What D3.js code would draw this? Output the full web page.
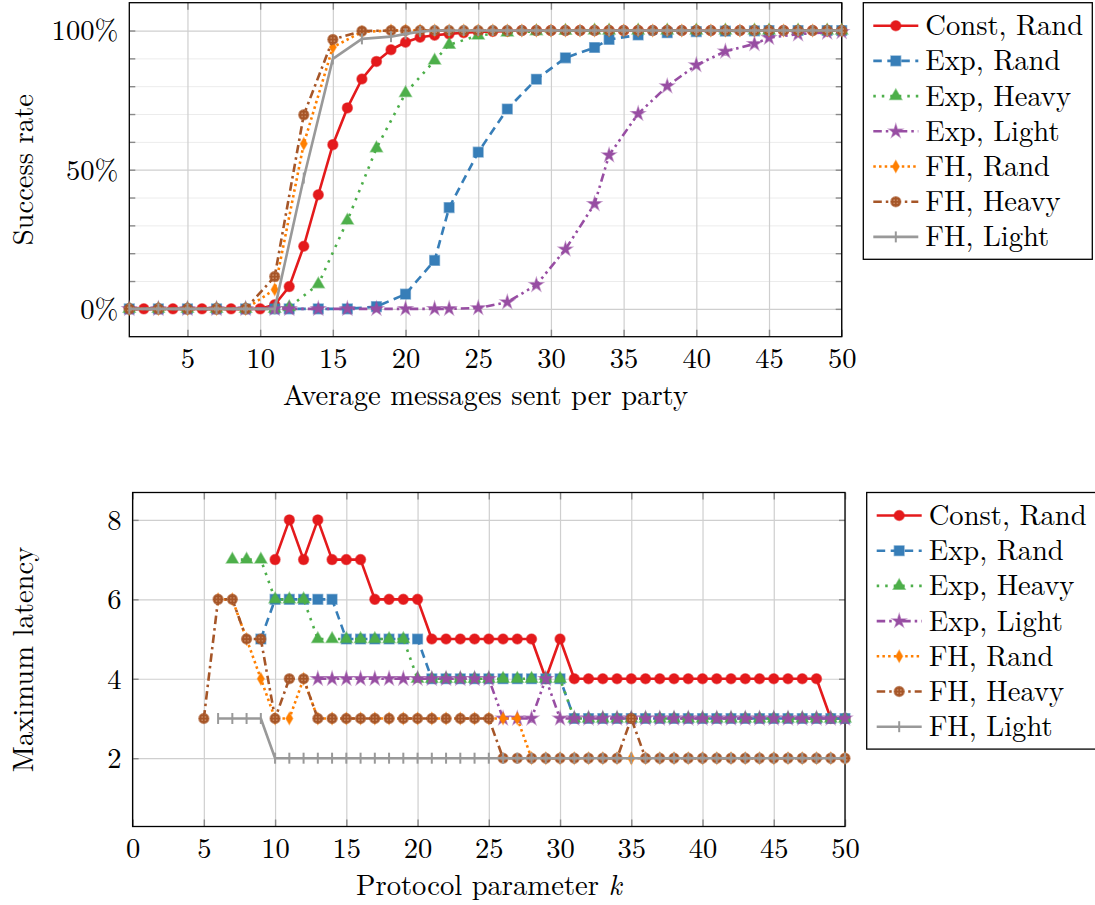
<!DOCTYPE html>
<meta charset="utf-8">
<title>Success rate and maximum latency</title>
<script src="https://d3js.org/d3.v7.min.js"></script>
<style>
  body { margin: 0; background: #fff; overflow: hidden; }
</style>
<div id="my_dataviz"></div>
<script>

// ---------- data ----------
var seriesNames = ["Const, Rand", "Exp, Rand", "Exp, Heavy", "Exp, Light", "FH, Rand", "FH, Heavy", "FH, Light"];

// top chart: success rate (%) vs. average messages sent per party
var constMsgX = [1,2,3,4,5,6,7,8,9,10,11,12,13,14,15,16,17,18,19,20,21,22,23,24,25,
                 26,27,28,29,30,31,32,33,34,35,36,37,38,39,40,41,42,43,44,45,46,47,48,49,50];
var constRandRate = [0,0,0,0,0,0,0,0,0,0,1.5,8,22.5,41,59,72.2,82.6,88.9,93.1,95.8,
                     97.6,98.3,98.8,99.2,99.5,99.7,99.8,100,100,100,100,100,100,100,100,100,100,100,100,100,
                     100,100,100,100,100,100,100,100,100,100];

var expMsgX = [1,3,5,7,9,11,12,14,16,18,20,22,23,25,27,29,31,33,34,36,38,40,42,44,45,47,49,50];
var expRandRate  = [0,0,0,0,0,0,0,0,0,0.8,5.3,17.4,36.4,56.3,71.8,82.5,90.2,93.9,96.8,98.4,99.2,99.6,99.8,99.9,100,100,100,100];
var expHeavyRate = [0,0,0,0,0,0,0.6,8.8,31.7,57.7,77.5,89.2,94.9,98.2,99.3,99.7,99.9,100,100,100,100,100,100,100,100,100,100,100];
var expLightRate = [0,0,0,0,0,0,0,0,0,0,0,0,0,0.3,2.4,8.6,21.4,37.7,55.2,70.1,80,87.6,92.5,95.2,97.4,98.7,99.3,99.5];

var fhMsgX = [1,3,5,7,9,11,13,15,17,19,20,21,22,23,24,25,26,27,28,29,30,31,32,33,34,35,
              36,37,38,39,40,41,42,43,44,45,46,47,48,49,50];
var fhRandRate  = [0,0,0,0,0,7,59.3,94,99.5,100,100,100,100,100,100,100,100,100,100,100,100,100,100,100,100,100,
                   100,100,100,100,100,100,100,100,100,100,100,100,100,100,100];
var fhHeavyRate = [0,0,0,0,0,11.6,69.7,96.8,99.8,100,100,100,100,100,100,100,100,100,100,100,100,100,100,100,100,100,
                   100,100,100,100,100,100,100,100,100,100,100,100,100,100,100];
var fhLightRate = [0,0,0,0,0,0,47,89.8,97,97.8,98.8,99.6,100,100,100,100,100,100,100,100,100,100,100,100,100,100,
                   100,100,100,100,100,100,100,100,100,100,100,100,100,100,100];

// bottom chart: maximum latency vs. protocol parameter k
var kConstRand = [10,11,12,13,14,15,16,17,18,19,20,21,22,23,24,25,26,27,28,29,30,
                  31,32,33,34,35,36,37,38,39,40,41,42,43,44,45,46,47,48,49,50];
var latConstRand = [7,8,7,8,7,7,7,6,6,6,6,5,5,5,5,5,5,5,5,4,5,
                    4,4,4,4,4,4,4,4,4,4,4,4,4,4,4,4,4,4,3,3];
var kExpRand = [9,10,11,12,13,14,15,16,17,18,19,20,21,22,23,24,25,26,27,28,29,30,
                31,32,33,34,35,36,37,38,39,40,41,42,43,44,45,46,47,48,49,50];
var latExpRand = [5,6,6,6,6,6,5,5,5,5,5,5,4,4,4,4,4,4,4,4,4,4,
                  3,3,3,3,3,3,3,3,3,3,3,3,3,3,3,3,3,3,3,3];
var kExpHeavy = [7,8,9,10,11,12,13,14,15,16,17,18,19,20,21,22,23,24,25,26,27,28,29,30,
                 31,32,33,34,35,36,37,38,39,40,41,42,43,44,45,46,47,48,49,50];
var latExpHeavy = [7,7,7,6,6,6,5,5,5,5,5,5,5,4,4,4,4,4,4,4,4,4,4,4,
                   3,3,3,3,3,3,3,3,3,3,3,3,3,3,3,3,3,3,3,3];
var kExpLight = [13,14,15,16,17,18,19,20,21,22,23,24,25,26,27,28,29,30,
                 31,32,33,34,35,36,37,38,39,40,41,42,43,44,45,46,47,48,49,50];
var latExpLight = [4,4,4,4,4,4,4,4,4,4,4,4,4,3,3,3,4,3,
                   3,3,3,3,3,3,3,3,3,3,3,3,3,3,3,3,3,3,3,3];
var kFHRand = [6,7,8,9,10,11,12,13,14,15,16,17,18,19,20,21,22,23,24,25,26,27,28,29,30,
               31,32,33,34,35,36,37,38,39,40,41,42,43,44,45,46,47,48,49,50];
var latFHRand = [6,6,5,4,3,3,4,3,3,3,3,3,3,3,3,3,3,3,3,3,3,3,2,2,2,
                 2,2,2,2,2,2,2,2,2,2,2,2,2,2,2,2,2,2,2,2];
var kFHHeavy = [5,6,7,8,9,10,11,12,13,14,15,16,17,18,19,20,21,22,23,24,25,26,27,28,29,30,
                31,32,33,34,35,36,37,38,39,40,41,42,43,44,45,46,47,48,49,50];
var latFHHeavy = [3,6,6,5,5,3,4,4,3,3,3,3,3,3,3,3,3,3,3,3,3,2,2,2,2,2,
                  2,2,2,2,3,2,2,2,2,2,2,2,2,2,2,2,2,2,2,2];
var kFHLight = [6,7,8,9,10,11,12,13,14,15,16,17,18,19,20,21,22,23,24,25,26,27,28,29,30,
                31,32,33,34,35,36,37,38,39,40,41,42,43,44,45,46,47,48,49,50];
var latFHLight = [3,3,3,3,2,2,2,2,2,2,2,2,2,2,2,2,2,2,2,2,2,2,2,2,2,
                  2,2,2,2,2,2,2,2,2,2,2,2,2,2,2,2,2,2,2,2];

// ---------- styles ----------
var colors = ["#e41a1c", "#377eb8", "#4daf4a", "#984ea3", "#ff7f00", "#a65628", "#999999"];
var dashes = [null, "8.5,5.5", "2.5,6", "8.5,4,2.5,4,2.5,4", "2.5,3.2", "8.5,4,2.5,4", null];
var marks  = ["circle", "square", "triangle", "star", "diamond", "dotcircle", "bar"];
var FONT = "'Latin Modern Roman', 'Liberation Serif', serif";
var FSIZE = 28.6;

var svg = d3.select("#my_dataviz")
  .append("svg")
    .attr("width", 1095)
    .attr("height", 905)
    .style("font-family", FONT);

// dotted fill for the FH, Heavy circles
var pat = svg.append("defs").append("pattern")
  .attr("id", "brownDots")
  .attr("patternUnits", "userSpaceOnUse")
  .attr("width", 3.2).attr("height", 3.2);
pat.append("rect").attr("width", 3.2).attr("height", 3.2).attr("fill", "#a65628");
pat.append("circle").attr("cx", 1.6).attr("cy", 1.6).attr("r", 0.7).attr("fill", "#d9a07c");

function drawMark(g, type, color, cx, cy) {
  var t = "translate(" + cx + "," + cy + ")";
  if (type == "bar") {
    g.append("line").attr("transform", t)
      .attr("y1", -5.5).attr("y2", 5.5)
      .attr("stroke", color).attr("stroke-width", 2);
    return;
  }
  var sym = {
    circle: [d3.symbolCircle, 80], square: [d3.symbolSquare, 95], triangle: [d3.symbolTriangle, 62],
    star: [d3.symbolStar, 55], diamond: [d3.symbolDiamond, 40], dotcircle: [d3.symbolCircle, 80]
  }[type];
  g.append("path").attr("transform", t)
    .attr("d", d3.symbol().type(sym[0]).size(sym[1])())
    .attr("fill", type == "dotcircle" ? "url(#brownDots)" : color)
    .attr("stroke", color)
    .attr("stroke-opacity", 0.55)
    .attr("stroke-width", 1.4);
}

function label(sel) {
  sel.style("font-family", FONT).style("font-size", FSIZE + "px").attr("fill", "#000");
}

// ---------- one axis panel ----------
function panel(cfg) {
  var x = d3.scaleLinear().domain(cfg.xDomain).range([cfg.left, cfg.right]);
  var y = d3.scaleLinear().domain(cfg.yDomain).range([cfg.bottom, cfg.top]);
  var h = cfg.bottom - cfg.top, w = cfg.right - cfg.left;
  var g = svg.append("g");

  function clean(sel, color, width) {
    sel.select(".domain").remove();
    sel.selectAll("line").attr("stroke", color).attr("stroke-width", width);
  }

  // grid
  if (cfg.yMinor) {
    g.append("g").attr("transform", "translate(" + cfg.left + ",0)")
      .call(d3.axisLeft(y).tickValues(cfg.yMinor).tickSize(-w).tickFormat(""))
      .call(clean, "#ececec", 1);
  }
  g.append("g").attr("transform", "translate(0," + cfg.bottom + ")")
    .call(d3.axisBottom(x).tickValues(cfg.xTicks).tickSize(-h).tickFormat(""))
    .call(clean, "#cfcfcf", 1.2);
  g.append("g").attr("transform", "translate(" + cfg.left + ",0)")
    .call(d3.axisLeft(y).tickValues(cfg.yTicks).tickSize(-w).tickFormat(""))
    .call(clean, "#cfcfcf", 1.2);

  // tick marks on all four sides
  g.append("g").attr("transform", "translate(0," + cfg.bottom + ")")
    .call(d3.axisBottom(x).tickValues(cfg.xTicks).tickSize(-7).tickFormat("")).call(clean, "#8a8a8a", 1.4);
  g.append("g").attr("transform", "translate(0," + cfg.top + ")")
    .call(d3.axisTop(x).tickValues(cfg.xTicks).tickSize(-7).tickFormat("")).call(clean, "#8a8a8a", 1.4);
  var yAll = (cfg.yMinor || []).concat(cfg.yTicks);
  g.append("g").attr("transform", "translate(" + cfg.left + ",0)")
    .call(d3.axisLeft(y).tickValues(yAll).tickSize(-6).tickFormat("")).call(clean, "#8a8a8a", 1.4);
  g.append("g").attr("transform", "translate(" + cfg.right + ",0)")
    .call(d3.axisRight(y).tickValues(yAll).tickSize(-6).tickFormat("")).call(clean, "#8a8a8a", 1.4);

  // tick labels
  var xl = g.append("g").attr("transform", "translate(0," + cfg.bottom + ")")
    .call(d3.axisBottom(x).tickValues(cfg.xTicks).tickSize(0).tickPadding(11));
  xl.select(".domain").remove();
  xl.selectAll("text").call(label);
  var yl = g.append("g").attr("transform", "translate(" + cfg.left + ",0)")
    .call(d3.axisLeft(y).tickValues(cfg.yTicks).tickSize(0).tickPadding(11).tickFormat(cfg.yFormat));
  yl.select(".domain").remove();
  yl.selectAll("text").call(label).attr("dy", "0.33em");

  // frame
  g.append("rect")
    .attr("x", cfg.left).attr("y", cfg.top)
    .attr("width", w).attr("height", h)
    .attr("fill", "none").attr("stroke", "#000").attr("stroke-width", 1.3);

  // axis titles
  var xt = g.append("text")
    .attr("x", (cfg.left + cfg.right) / 2).attr("y", cfg.bottom + 68)
    .attr("text-anchor", "middle").call(label);
  xt.append("tspan").text(cfg.xLabel);
  if (cfg.xLabelItalic) xt.append("tspan").attr("font-style", "italic").text(cfg.xLabelItalic);
  g.append("text")
    .attr("transform", "translate(24," + (cfg.top + h / 2) + ") rotate(-90)")
    .attr("text-anchor", "middle").attr("dy", "0.33em")
    .call(label)
    .text(cfg.yLabel);

  // series, each line then its marks
  var line = d3.line().x(function(d) { return x(d[0]); }).y(function(d) { return y(d[1]); });
  cfg.series.forEach(function(s, i) {
    var pts = s.x.map(function(v, j) { return [v, s.y[j]]; });
    var sg = g.append("g");
    sg.append("path").attr("d", line(pts))
      .attr("fill", "none").attr("stroke", colors[i]).attr("stroke-width", 2.6)
      .attr("stroke-dasharray", dashes[i]).attr("stroke-linejoin", "round");
    pts.forEach(function(p) { drawMark(sg, marks[i], colors[i], x(p[0]), y(p[1])); });
  });

  // legend
  var lg = g.append("g");
  lg.append("rect")
    .attr("x", cfg.legendX).attr("y", cfg.top)
    .attr("width", 229).attr("height", 256.6)
    .attr("fill", "#fff").attr("stroke", "#000").attr("stroke-width", 1.3);
  seriesNames.forEach(function(name, i) {
    var cy = cfg.top + 23 + i * 35.2;
    lg.append("line")
      .attr("x1", cfg.legendX + 10).attr("x2", cfg.legendX + 55)
      .attr("y1", cy).attr("y2", cy)
      .attr("stroke", colors[i]).attr("stroke-width", 2.6)
      .attr("stroke-dasharray", dashes[i]);
    drawMark(lg, marks[i], colors[i], cfg.legendX + 32.5, cy);
    lg.append("text")
      .attr("x", cfg.legendX + 62).attr("y", cy).attr("dy", "0.33em")
      .call(label)
      .text(name);
  });
}

panel({
  left: 129.3, right: 841.7, top: 2.7, bottom: 336.7,
  xDomain: [1, 50], yDomain: [-10, 110],
  xTicks: [5, 10, 15, 20, 25, 30, 35, 40, 45, 50],
  yTicks: [0, 50, 100],
  yMinor: [10, 20, 30, 40, 60, 70, 80, 90],
  yFormat: function(d) { return d + "%"; },
  xLabel: "Average messages sent per party",
  yLabel: "Success rate",
  legendX: 863.3,
  series: [
    {x: constMsgX, y: constRandRate},
    {x: expMsgX, y: expRandRate},
    {x: expMsgX, y: expHeavyRate},
    {x: expMsgX, y: expLightRate},
    {x: fhMsgX, y: fhRandRate},
    {x: fhMsgX, y: fhHeavyRate},
    {x: fhMsgX, y: fhLightRate}
  ]
});

panel({
  left: 132.6, right: 845, top: 492.5, bottom: 826.5,
  xDomain: [0, 50], yDomain: [0.28, 8.69],
  xTicks: [0, 5, 10, 15, 20, 25, 30, 35, 40, 45, 50],
  yTicks: [2, 4, 6, 8],
  yMinor: null,
  yFormat: function(d) { return d; },
  xLabel: "Protocol parameter ",
  xLabelItalic: "k",
  yLabel: "Maximum latency",
  legendX: 866.7,
  series: [
    {x: kConstRand, y: latConstRand},
    {x: kExpRand, y: latExpRand},
    {x: kExpHeavy, y: latExpHeavy},
    {x: kExpLight, y: latExpLight},
    {x: kFHRand, y: latFHRand},
    {x: kFHHeavy, y: latFHHeavy},
    {x: kFHLight, y: latFHLight}
  ]
});

</script>
